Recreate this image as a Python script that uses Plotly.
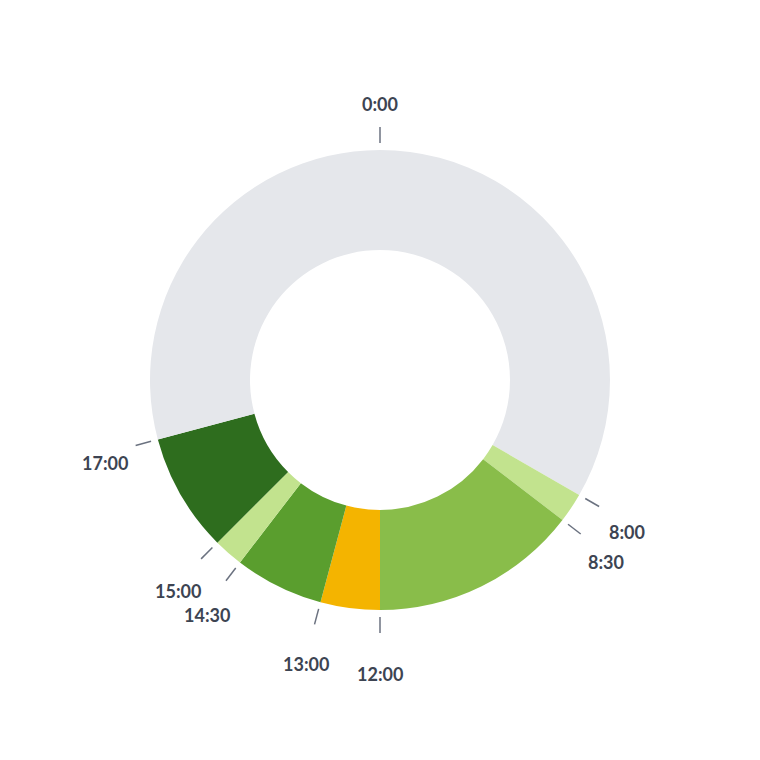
import math
import plotly.graph_objects as go

# Data: segments of a 24h day (start hour, end hour, colour key)
seg_start = [0.0, 8.0, 8.5, 12.0, 13.0, 14.5, 15.0, 17.0]
seg_end = [8.0, 8.5, 12.0, 13.0, 14.5, 15.0, 17.0, 24.0]
seg_kind = ["idle", "light", "green", "break", "mid", "light", "dark", "idle"]
tick_hours = [0.0, 8.0, 8.5, 12.0, 13.0, 14.5, 15.0, 17.0]
tick_labels = ["0:00", "8:00", "8:30", "12:00", "13:00", "14:30", "15:00", "17:00"]

palette = {
    "idle": "#e5e7eb",
    "light": "#c2e38e",
    "green": "#89bd4a",
    "break": "#f4b400",
    "mid": "#5a9e2e",
    "dark": "#2e6d1e",
}

values = [e - s for s, e in zip(seg_start, seg_end)]
colors = [palette[k] for k in seg_kind]

W = H = 760
cx, cy = 380, 380
R_out = 230
R_in = 130

fig = go.Figure(go.Pie(
    values=values,
    labels=[f"seg{i}" for i in range(len(values))],
    marker=dict(colors=colors, line=dict(width=0)),
    sort=False,
    direction="clockwise",
    rotation=0,
    hole=R_in / R_out,
    textinfo="none",
    hoverinfo="skip",
    showlegend=False,
    domain=dict(x=[(cx - R_out) / W, (cx + R_out) / W],
                y=[(cy - R_out) / H, (cy + R_out) / H]),
))

shapes = []
annotations = []
for h, lab in zip(tick_hours, tick_labels):
    a = h / 24 * 2 * math.pi
    sx, sy = math.sin(a), -math.cos(a)
    x0, y0 = cx + 237 * sx, cy + 237 * sy
    x1, y1 = cx + 253 * sx, cy + 253 * sy
    shapes.append(dict(type="line", xref="paper", yref="paper",
                       x0=x0 / W, y0=1 - y0 / H, x1=x1 / W, y1=1 - y1 / H,
                       line=dict(color="#6b7280", width=1.5)))
    lx, ly = cx + 285 * sx, cy + 285 * sy + 9
    annotations.append(dict(x=lx / W, y=1 - ly / H, xref="paper", yref="paper",
                            text=f"<b>{lab}</b>", showarrow=False,
                            xanchor="center", yanchor="middle",
                            font=dict(family="Lato, Noto Sans, sans-serif", size=18, color="#3d4452")))

fig.update_layout(
    width=W, height=H,
    margin=dict(l=0, r=0, t=0, b=0),
    paper_bgcolor="white",
    plot_bgcolor="white",
    shapes=shapes,
    annotations=annotations,
)

fig.write_html("out.html")
